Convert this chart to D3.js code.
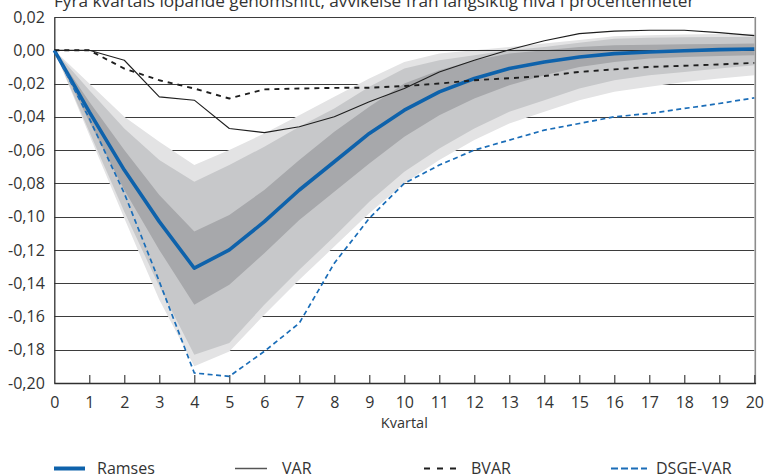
<!DOCTYPE html>
<html>
<head>
<meta charset="utf-8">
<script src="https://cdn.jsdelivr.net/npm/d3@7"></script>
<style>
  html, body { margin: 0; padding: 0; background: #fff; }
  svg text { font-family: "Open Sans", "DejaVu Sans", sans-serif; fill: #333; }
</style>
</head>
<body>
<svg id="chart" width="764" height="475"></svg>
<script>
// Quarters after the shock
const quarters = d3.range(0, 21);

// Impulse responses, deviation from long-run level (percentage points)
const ramses  = [0, -0.037, -0.072, -0.103, -0.131, -0.120, -0.103, -0.084, -0.067, -0.050, -0.036,
                 -0.025, -0.017, -0.011, -0.007, -0.004, -0.002, -0.001, -0.0003, 0.0004, 0.0008];
const varLine = [0, 0, -0.006, -0.028, -0.030, -0.047, -0.0495, -0.046, -0.040, -0.031, -0.023,
                 -0.013, -0.006, 0.0003, 0.0057, 0.010, 0.0115, 0.012, 0.012, 0.0106, 0.0088];
const bvar    = [0, 0, -0.011, -0.018, -0.023, -0.029, -0.0235, -0.023, -0.0226, -0.0225, -0.0215,
                 -0.020, -0.018, -0.0168, -0.0155, -0.013, -0.0115, -0.010, -0.0093, -0.0085, -0.0076];
const dsgeVar = [0, -0.041, -0.086, -0.139, -0.194, -0.196, -0.181, -0.164, -0.128, -0.101, -0.080,
                 -0.069, -0.060, -0.054, -0.048, -0.044, -0.040, -0.038, -0.035, -0.032, -0.0286];

// Uncertainty bands around the Ramses response (lower / upper bounds)
const outerLo = [0, -0.051, -0.101, -0.150, -0.190, -0.181, -0.159, -0.138, -0.118, -0.098, -0.080,
                 -0.066, -0.054, -0.044, -0.037, -0.030, -0.025, -0.022, -0.019, -0.017, -0.015];
const outerHi = [0, -0.020, -0.040, -0.055, -0.069, -0.060, -0.050, -0.039, -0.028, -0.017, -0.007,
                 -0.002, 0.000, 0.002, 0.004, 0.0062, 0.0085, 0.009, 0.0095, 0.0098, 0.010];
const midLo   = [0, -0.049, -0.097, -0.142, -0.183, -0.176, -0.153, -0.132, -0.112, -0.091, -0.073,
                 -0.059, -0.047, -0.037, -0.030, -0.023, -0.018, -0.015, -0.013, -0.011, -0.009];
const midHi   = [0, -0.024, -0.047, -0.066, -0.079, -0.069, -0.058, -0.046, -0.035, -0.022, -0.011,
                 -0.006, -0.003, 0.000, 0.002, 0.0045, 0.007, 0.0075, 0.0078, 0.008, 0.008];
const innerLo = [0, -0.043, -0.084, -0.120, -0.153, -0.141, -0.122, -0.102, -0.085, -0.068, -0.052,
                 -0.039, -0.029, -0.021, -0.015, -0.010, -0.007, -0.005, -0.004, -0.0035, -0.003];
const innerHi = [0, -0.031, -0.060, -0.087, -0.109, -0.099, -0.084, -0.066, -0.049, -0.034, -0.020,
                 -0.012, -0.006, -0.002, 0.000, 0.002, 0.003, 0.0033, 0.0036, 0.0038, 0.004];

// Axis ticks
const yTicks = [0.02, 0.00, -0.02, -0.04, -0.06, -0.08, -0.10, -0.12, -0.14, -0.16, -0.18, -0.20];
const xTicks = d3.range(0, 21);

const title = "Fyra kvartals löpande genomsnitt, avvikelse från långsiktig nivå i procentenheter";
const xTitle = "Kvartal";

const seriesNames = ["Ramses", "VAR", "BVAR", "DSGE-VAR"];

const svg = d3.select("#chart");
const plotLeft = 54.3, plotRight = 754.3, plotTop = 17, plotBottom = 383;

const x = d3.scaleLinear().domain([0, 20]).range([plotLeft, plotRight]);
const y = d3.scaleLinear().domain([-0.20, 0.02]).range([plotBottom, plotTop]);

const svLocale = d3.formatLocale({ decimal: ",", thousands: " ", grouping: [3], currency: ["", " kr"], minus: "-" });
const fmt = svLocale.format(".2f");

// Title line above the plot
svg.append("text")
  .attr("x", 54).attr("y", 7)
  .style("font-size", "17.2px")
  .text(title);

// Horizontal gridlines (behind the bands)
svg.append("g")
  .selectAll("line")
  .data(yTicks.filter(v => v !== 0 && v !== -0.20))
  .join("line")
  .attr("x1", plotLeft).attr("x2", plotRight)
  .attr("y1", d => Math.round(y(d)) + 0.5).attr("y2", d => Math.round(y(d)) + 0.5)
  .attr("stroke", "#3d3d3d").attr("stroke-width", 1.1);

// Fan bands
const band = (lo, hi) => d3.area()
  .x((d, i) => x(quarters[i]))
  .y0((d, i) => y(lo[i]))
  .y1((d, i) => y(hi[i]));

const bands = [
  { lo: outerLo, hi: outerHi, fill: "#e3e3e4" },
  { lo: midLo,   hi: midHi,   fill: "#c7c8ca" },
  { lo: innerLo, hi: innerHi, fill: "#a7a8ab" }
];
svg.append("g").selectAll("path")
  .data(bands)
  .join("path")
  .attr("d", b => band(b.lo, b.hi)(quarters))
  .attr("fill", b => b.fill);

// Zero line drawn over the bands
svg.append("line")
  .attr("x1", plotLeft).attr("x2", plotRight)
  .attr("y1", Math.round(y(0)) + 0.5).attr("y2", Math.round(y(0)) + 0.5)
  .attr("stroke", "#2f2f2f").attr("stroke-width", 1.2);

// Right frame edge
svg.append("line")
  .attr("x1", plotRight + 1).attr("x2", plotRight + 1)
  .attr("y1", y(0.02)).attr("y2", plotBottom)
  .attr("stroke", "#8c8c8c").attr("stroke-width", 1.6);

// Axes
const yAxis = d3.axisLeft(y).tickValues(yTicks).tickSize(0).tickPadding(10).tickFormat(fmt);
const yG = svg.append("g").attr("transform", `translate(${plotLeft},0)`).call(yAxis);
yG.select(".domain").attr("stroke", "#2f2f2f").attr("stroke-width", 1.3);
yG.selectAll("text").style("font-size", "16px").attr("fill", "#333").attr("x", -9.5);

const xAxis = d3.axisBottom(x).tickValues(xTicks).tickSize(-8).tickPadding(14).tickFormat(d3.format("d"));
const xG = svg.append("g").attr("transform", `translate(0,${plotBottom})`).call(xAxis);
xG.select(".domain").attr("stroke", "#2f2f2f").attr("stroke-width", 1.3).attr("d", `M${plotLeft},0.5H${plotRight + 1.8}`);
xG.selectAll(".tick line").attr("stroke", "#2f2f2f").attr("stroke-width", 1.1);
xG.selectAll(".tick").filter(d => d === 0).select("line").remove();
xG.selectAll("text").style("font-size", "16px").attr("fill", "#333");

svg.append("text")
  .attr("x", x(10)).attr("y", 428)
  .attr("text-anchor", "middle")
  .style("font-size", "14.5px")
  .text(xTitle);

// Response lines
const line = d3.line().x((d, i) => x(quarters[i])).y(d => y(d));

const styles = [
  { data: ramses,  stroke: "#0e62ab", width: 3.6, dash: null },
  { data: varLine, stroke: "#1e1e1e", width: 1.1, dash: null },
  { data: bvar,    stroke: "#1e1e1e", width: 1.9, dash: "5,5" },
  { data: dsgeVar, stroke: "#1a6db8", width: 1.7, dash: "5,3.5" }
];
svg.append("g").selectAll("path")
  .data(styles)
  .join("path")
  .attr("d", s => line(s.data))
  .attr("fill", "none")
  .attr("stroke", s => s.stroke)
  .attr("stroke-width", s => s.width)
  .attr("stroke-dasharray", s => s.dash)
  .attr("stroke-linejoin", "round");

// Legend
const legendItems = [
  { name: seriesNames[0], x0: 54,  x1: 85,  tx: 97,  stroke: "#0e62ab", width: 4,   dash: null },
  { name: seriesNames[1], x0: 235, x1: 267, tx: 282, stroke: "#555",    width: 1.5, dash: null },
  { name: seriesNames[2], x0: 424, x1: 456, tx: 471, stroke: "#1e1e1e", width: 2,   dash: "6,7" },
  { name: seriesNames[3], x0: 611, x1: 647, tx: 656, stroke: "#1a6db8", width: 2,   dash: "7,3" }
];
const lg = svg.append("g").selectAll("g").data(legendItems).join("g");
lg.append("line")
  .attr("x1", d => d.x0).attr("x2", d => d.x1)
  .attr("y1", 468.5).attr("y2", 468.5)
  .attr("stroke", d => d.stroke)
  .attr("stroke-width", d => d.width)
  .attr("stroke-dasharray", d => d.dash);
lg.append("text")
  .attr("x", d => d.tx).attr("y", 473.5)
  .style("font-size", "16px")
  .text(d => d.name);
</script>
</body>
</html>
